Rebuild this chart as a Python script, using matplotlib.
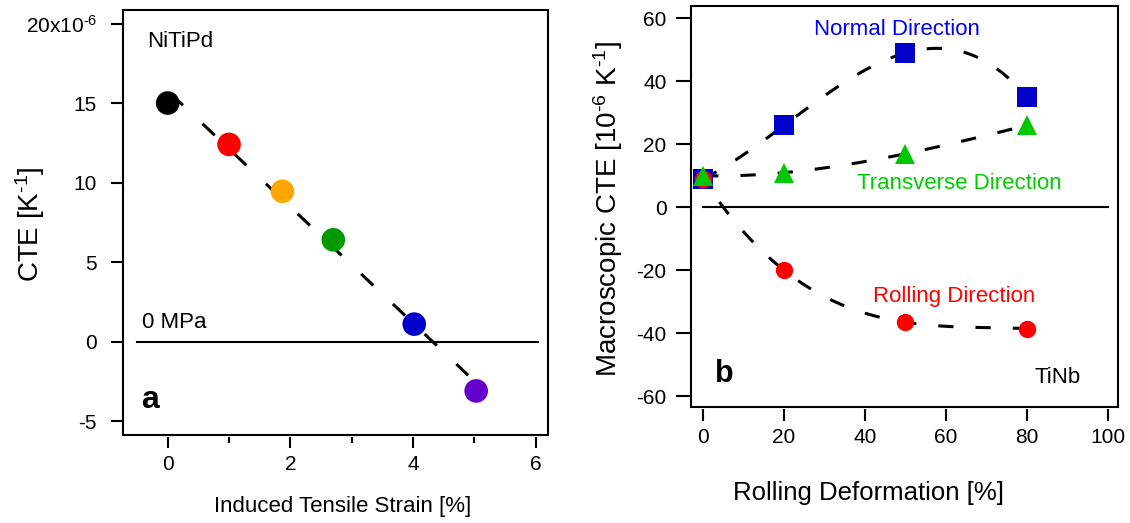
import numpy as np
import matplotlib
matplotlib.use('Agg')
from matplotlib import pyplot as plt
from matplotlib.patches import Rectangle

plt.rcParams['font.family'] = ['Liberation Sans', 'DejaVu Sans']
plt.rcParams['mathtext.fontset'] = 'custom'
plt.rcParams['mathtext.rm'] = 'Liberation Sans'
plt.rcParams['mathtext.it'] = 'Liberation Sans'
plt.rcParams['axes.unicode_minus'] = False

# panel a : NiTiPd
strain = [0, 1, 1.87, 2.7, 4.02, 5.03]
cte_a = [15, 12.4, 9.45, 6.4, 1.1, -3.1]
colors_a = ['black', '#ff0000', '#ffa500', '#009a00', '#0000cc', '#6600cc']

# panel b : TiNb
rolling = [0, 20, 50, 80]
normal_dir = [9, 26, 49, 35]
transverse_dir = [10, 11, 17, 26]
rolling_dir = [9, -20, -36.5, -38.5]

fig = plt.figure(figsize=(11.3, 5.23), dpi=100)

def frame(ax, off):
    for s in ax.spines.values():
        s.set_visible(False)
    ax.add_patch(Rectangle((0, 0), 1, 1, transform=ax.transAxes, fill=False,
                           lw=1.5, ec='k', clip_on=False, zorder=5))
    ax.spines['bottom'].set_position(('outward', off))

# ---------- a ----------
ax1 = fig.add_axes([0.1088, 0.1683, 0.3761, 0.8126])
frame(ax1, 1.5)
ax1.set_xlim(-0.73, 6.2)
ax1.set_ylim(-5.87, 20.85)
xx = np.linspace(0.05, 4.9, 50)
p = np.polyfit(strain, cte_a, 1)
ax1.plot(xx, np.polyval(p, xx), color='k', lw=2.2, dashes=(5.5, 8.8), zorder=2)
ax1.scatter(strain, cte_a, s=17**2, c=colors_a, zorder=3, linewidths=0)
ax1.axhline(0, xmin=(-0.5 + 0.73) / 6.93, xmax=(6.03 + 0.73) / 6.93, color='k', lw=1.5)
ax1.set_xticks([0, 2, 4, 6])
ax1.set_xticks([1, 3, 5], minor=True)
ax1.set_yticks([-5, 0, 5, 10, 15, 20])
ax1.set_yticklabels(['-5', '0', '5', '10', '15', r'20x10$^{\text{-6}}$'])
ax1.tick_params(axis='x', which='major', length=8, width=1.5, labelsize=15, pad=5)
ax1.tick_params(axis='x', which='minor', length=4.3, width=1.5)
ax1.tick_params(axis='y', length=8.6, width=1.5, labelsize=15, pad=10)
ax1.set_ylabel(r'CTE [K$^{\text{-1}}$]', fontsize=20, ha='center', va='center')
ax1.yaxis.set_label_coords(-0.219, 0.496)
ax1.set_xlabel('Induced Tensile Strain [%]', fontsize=16, va='center')
ax1.xaxis.set_label_coords(0.517, -0.169)
ax1.text(-0.33, 18.9, 'NiTiPd', fontsize=16, va='center')
ax1.text(-0.42, 0.55, '0 MPa', fontsize=16, va='bottom')
ax1.text(-0.44, -3.7, 'a', fontsize=23, fontweight='bold', va='center')

# ---------- b ----------
ax2 = fig.add_axes([0.6119, 0.2218, 0.3777, 0.7667])
frame(ax2, 1.5)
ax2.set_xlim(-2.9, 102.6)
ax2.set_ylim(-63.4, 63.9)
xb = np.linspace(0, 80, 100)
for yv in (normal_dir, transverse_dir):
    ax2.plot(xb, np.polyval(np.polyfit(rolling, yv, 3), xb), color='k', lw=2.2,
             dashes=(5, 7.2), zorder=2)
xr = np.linspace(4, 80, 100)
ax2.plot(xr, np.polyval(np.polyfit(rolling, rolling_dir, 3), xr), color='k', lw=2.2,
         dashes=(5, 7.2), zorder=2)
ax2.axhline(0, xmin=2.9 / 105.5, xmax=102.9 / 105.5, color='k', lw=1.5)
ax2.plot(rolling, normal_dir, 's', color='#0000c8', ms=14.4, mew=0, zorder=3)
ax2.plot(rolling, rolling_dir, 'o', color='#ff0000', ms=12.5, mew=0, zorder=4)
ax2.plot(rolling, transverse_dir, '^', color='#00c800', ms=14, mew=0, zorder=5)
ax2.set_xticks([0, 20, 40, 60, 80, 100])
ax2.set_yticks([-60, -40, -20, 0, 20, 40, 60])
ax2.tick_params(axis='x', length=8.6, width=1.5, labelsize=15, pad=5)
ax2.tick_params(axis='y', length=10.8, width=1.5, labelsize=15, pad=7)
ax2.set_ylabel(r'Macroscopic CTE [10$^{\text{-6}}$ K$^{\text{-1}}$]', fontsize=20,
               ha='center', va='center')
ax2.yaxis.set_label_coords(-0.195, 0.494)
ax2.set_xlabel('Rolling Deformation [%]', fontsize=18.5, va='center')
ax2.xaxis.set_label_coords(0.416, -0.2145)
ax2.text(48, 56.3, 'Normal Direction', color='#0000ff', fontsize=16, ha='center', va='center')
ax2.text(38, 7.7, 'Transverse Direction', color='#00cc00', fontsize=16, va='center')
ax2.text(42, -28.4, 'Rolling Direction', color='#ff0000', fontsize=16, va='center')
ax2.text(82, -54, 'TiNb', fontsize=16, va='center')
ax2.text(3, -53, 'b', fontsize=22, fontweight='bold', va='center')

fig.savefig('out.png', dpi=100)
